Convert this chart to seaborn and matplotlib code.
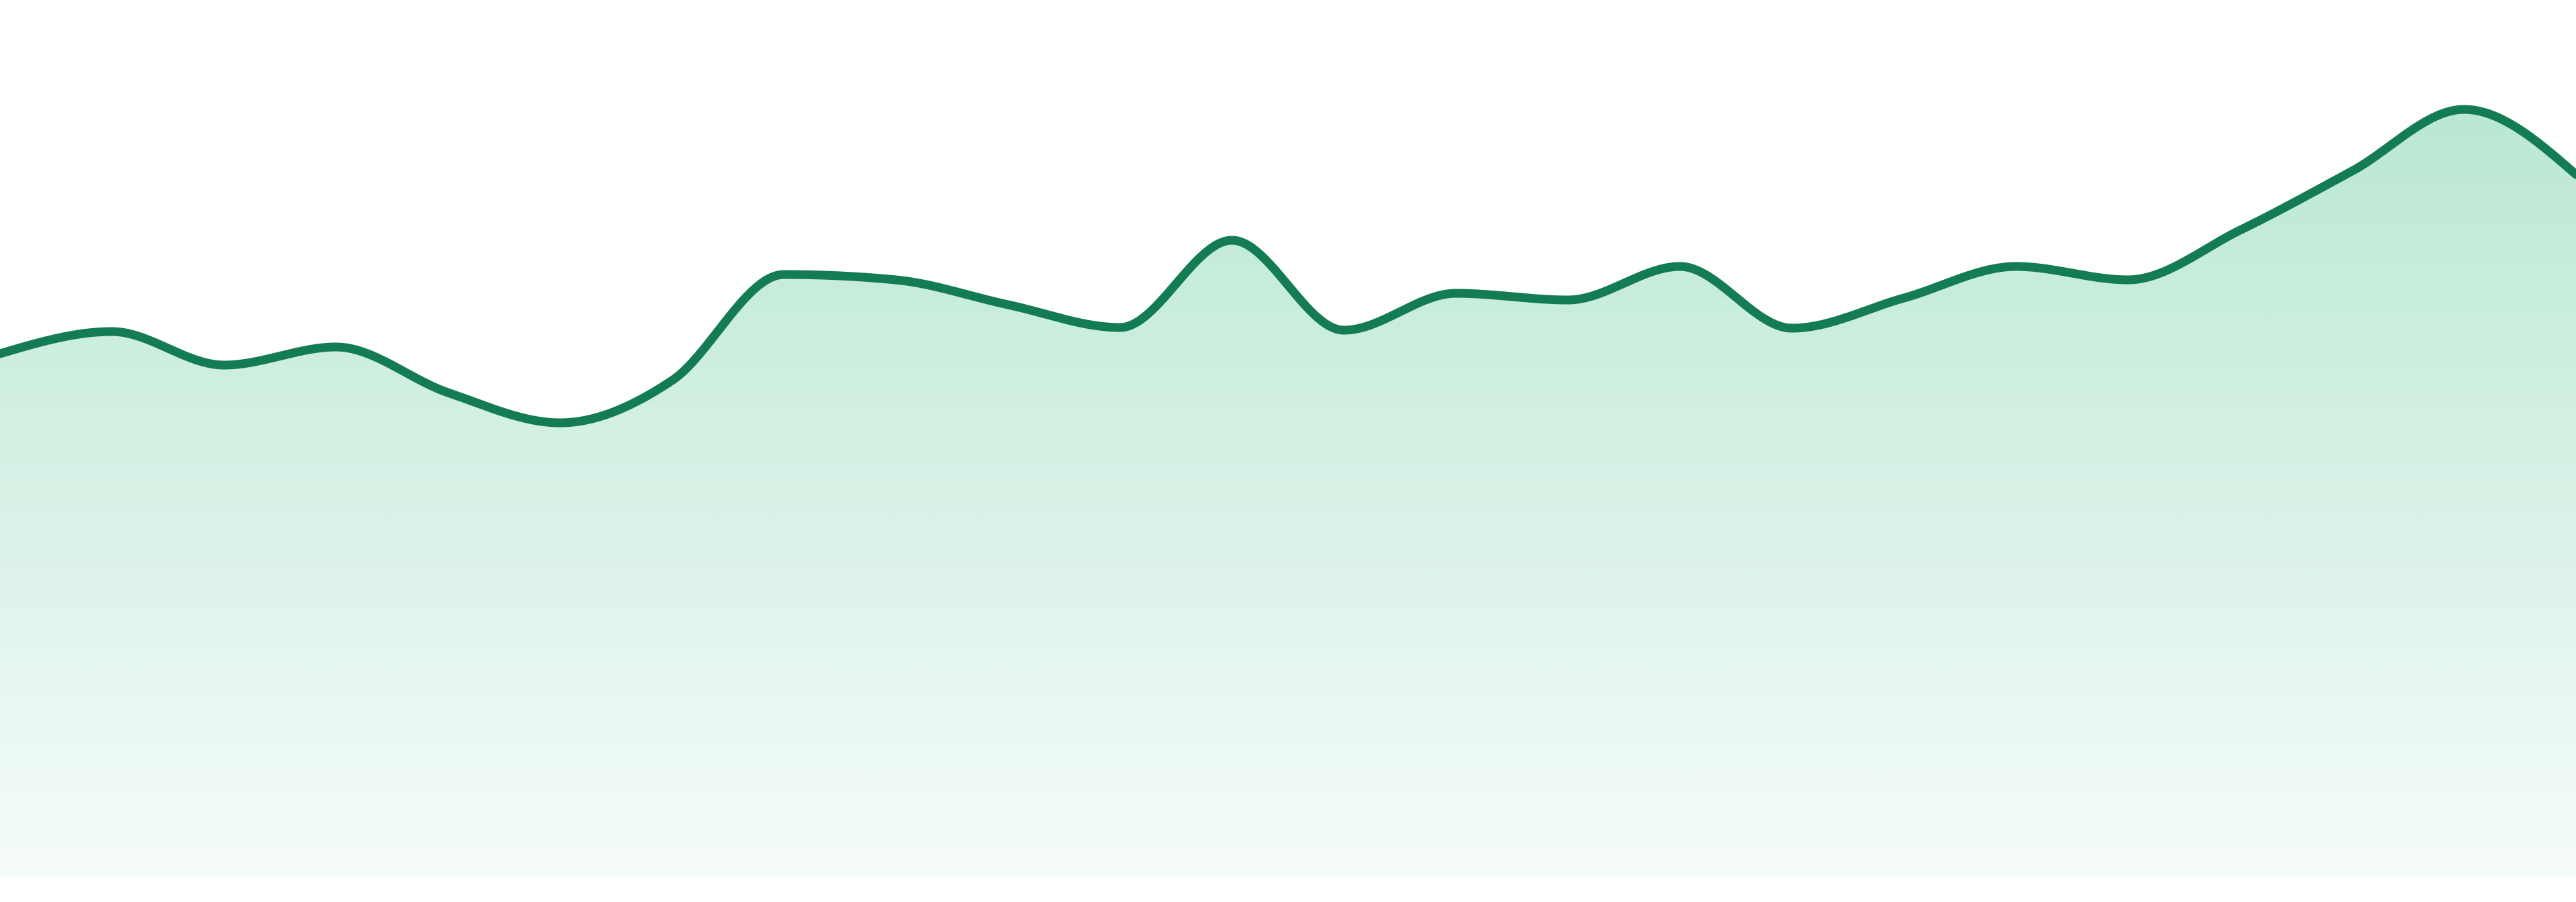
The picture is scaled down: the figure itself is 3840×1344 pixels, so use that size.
import numpy as np
import pandas as pd
import seaborn as sns
import matplotlib.pyplot as plt
from matplotlib.colors import LinearSegmentedColormap

# data
steps = list(range(24))
values = [77.8, 81.1, 76.1, 78.8, 72.0, 67.5, 73.8, 89.6, 88.8, 85.1, 81.7, 94.7,
          81.3, 86.8, 85.8, 90.8, 81.6, 86.1, 90.8, 88.8, 96.2, 105.0, 114.2, 104.5]

line_color = '#137c52'
fill_top = '#bae8d3'
fill_bottom = '#f6fcfa'


# monotone cubic curve, like d3.curveMonotoneX
def monotone(x, y, n=60):
    x = np.asarray(x, float)
    y = np.asarray(y, float)
    h = np.diff(x)
    s = np.diff(y) / h
    t = np.zeros(len(x))
    for i in range(1, len(x) - 1):
        p = (s[i - 1] * h[i] + s[i] * h[i - 1]) / (h[i - 1] + h[i])
        sg = (1 if s[i - 1] >= 0 else -1) + (1 if s[i] >= 0 else -1)
        t[i] = sg * min(abs(s[i - 1]), abs(s[i]), 0.5 * abs(p))
    t[0] = (3 * s[0] - t[1]) / 2
    t[-1] = (3 * s[-1] - t[-2]) / 2
    xs, ys = [], []
    for i in range(len(x) - 1):
        u = np.linspace(0, 1, n, endpoint=False)
        h00 = 2 * u**3 - 3 * u**2 + 1
        h10 = u**3 - 2 * u**2 + u
        h01 = -2 * u**3 + 3 * u**2
        h11 = u**3 - u**2
        xs.append(x[i] + u * h[i])
        ys.append(h00 * y[i] + h10 * h[i] * t[i] + h01 * y[i + 1] + h11 * h[i] * t[i + 1])
    xs.append([x[-1]])
    ys.append([y[-1]])
    return np.concatenate(xs), np.concatenate(ys)


sns.set_theme(style='white')
fig = plt.figure(figsize=(38.4, 13.44), dpi=100)
fig.patch.set_facecolor('white')
ax = fig.add_axes([0, 39 / 1344, 1, 1305 / 1344])

cx, cy = monotone(steps, values)
curve = pd.DataFrame({'step': cx, 'value': cy})

# gradient fill under the curve
top = max(values)
cmap = LinearSegmentedColormap.from_list('fade', [fill_bottom, fill_top])
grad = np.linspace(0, 1, 512).reshape(-1, 1)
img = ax.imshow(grad, cmap=cmap, origin='lower', aspect='auto',
                extent=[steps[0], steps[-1], 0, top], zorder=1)
poly = ax.fill_between(curve['step'], curve['value'], 0, color='none', lw=0)
img.set_clip_path(poly.get_paths()[0], transform=ax.transData)

sns.lineplot(data=curve, x='step', y='value', color=line_color, linewidth=9.4,
             sort=False, ax=ax, zorder=3)

ax.set_xlim(steps[0], steps[-1])
ax.set_ylim(0, 130.5)
ax.set_axis_off()

fig.savefig('out.png', dpi=100, facecolor='white')
